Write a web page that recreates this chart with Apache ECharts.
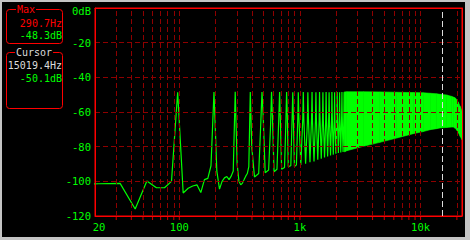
<!DOCTYPE html>
<html><head><meta charset="utf-8">
<script src="https://cdn.jsdelivr.net/npm/echarts@6/dist/echarts.min.js"></script>
<style>html,body{margin:0;padding:0;background:#000;}#c{width:470px;height:240px;}</style>
</head><body><div id="c"></div>
<script>
// ---------- data ----------
const xLabelText = {20: '20', 100: '100', 1000: '1k', 10000: '10k'};
const yTicks = [0, -20, -40, -60, -80, -100, -120];
const gridHz = [30,40,50,60,70,80,90,100,200,300,400,500,600,700,800,900,1000,2000,3000,4000,5000,6000,7000,8000,9000,10000,20000];
const gridDb = [-20, -40, -60, -80, -100];

// FFT bins (44100 Hz / 4096) below the 4th harmonic: [Hz, dB]
const lowBins = [[10.77,-101.6],[21.53,-101.4],[32.30,-101.2],[43.07,-116.0],[53.83,-99.8],[64.60,-103.7],[75.37,-103.7],[86.13,-100.0],
  [96.90,-48.6],[107.67,-106.7],[118.43,-104.0],[129.20,-102.7],[139.97,-102.0],[150.73,-106.5],[161.50,-99.0],[172.27,-98.3],[183.03,-91.0],
  [193.80,-48.5],[204.57,-94.0],[215.33,-104.5],[226.10,-100.0],[236.87,-98.0],[247.63,-97.2],[258.40,-99.0],[269.17,-97.0],[279.93,-94.0],
  [290.70,-48.3],[301.47,-90.0],[312.23,-100.0],[323.00,-102.0],[333.77,-101.0],[344.53,-99.0],[355.30,-97.0],[366.07,-95.5]];

// harmonics 4..24
const harmHz = [387.6,484.5,581.4,678.3,775.2,872.1,969.0,1065.9,1162.8,1259.7,1356.6,1453.5,1550.4,1647.3,1744.2,1841.1,1938.0,2034.9,2131.8,2228.7,2325.6];
const harmPeakDb = [-48.4,-48.5,-48.4,-48.5,-48.5,-48.6,-48.6,-48.5,-48.6,-48.5,-48.6,-48.5,-48.6,-48.5,-48.6,-48.5,-48.6,-48.5,-48.6,-48.5,-48.6];
const preHz = [376.83,473.73,570.63,667.53,764.43,861.33,958.23,1055.13,1152.03,1248.93,1345.83,1442.73,1539.63,1636.53,1733.43,1830.33,1927.23,2024.13,2121.03,2217.93,2314.83];
const preDb = [-91.5,-66,-68,-64,-66,-63,-65,-64,-66,-63,-64,-65,-63,-64,-62,-64,-63,-62,-63,-62,-63];
const postHz = [398.37,495.27,592.17,689.07,785.97,882.87,979.77,1076.67,1173.57,1270.47,1367.37,1464.27,1561.17,1658.07,1754.97,1851.87,1948.77,2045.67,2142.57,2239.47,2336.37];
const postDb = [-80,-62,-64,-66,-62,-65,-63,-64,-62,-65,-63,-62,-64,-62,-63,-62,-64,-62,-63,-62,-62];
const troughHz = [420,455,515,550,610,645,705,745,800,840,900,935,1017,1114,1211,1308,1405,1502,1599,1696,1793,1890,1986,2083,2180,2277,2374];
const troughDb = [-97.5,-95.5,-95,-93.5,-94.5,-93,-93,-92,-91.5,-91,-91.5,-90.5,-90.5,-89.8,-89,-88.5,-87.6,-86.9,-86.2,-85.6,-85.1,-84.6,-84.1,-83.7,-83.3,-83,-82.8];

// dense harmonic region: upper / lower envelope
const bandHz = [2330,2450,3360,4600,6350,8700,10500,12000,13600,14500,16500,18100,18700,19300,20000,20600,21300,22050];
const bandTopDb = [-48.4,-48.3,-48.3,-48.4,-48.6,-48.8,-48.9,-49.2,-49.5,-49.8,-50.2,-51.0,-51.4,-51.8,-52.9,-54.5,-56.8,-59.5];
const bandBottomDb = [-83,-82.3,-79.8,-77.5,-75,-72.5,-71.3,-70.2,-69.6,-69.2,-68.9,-68.7,-68.7,-69.3,-70.5,-72,-74,-76];

const cursorHz = 15019.4;
const maxText = ['Max', '290.7Hz', '-48.3dB'];
const cursorText = ['Cursor', '15019.4Hz', '-50.1dB'];

// ---------- build ----------
const spectrum = lowBins.slice();
harmHz.forEach((h, i) => { spectrum.push([preHz[i], preDb[i]], [h, harmPeakDb[i]], [postHz[i], postDb[i]]); });
troughHz.forEach((h, i) => spectrum.push([h, troughDb[i]]));
spectrum.sort((a, b) => a[0] - b[0]);

const GREEN = '#00ff00', RED = '#ff0000', DARKRED = '#8e0000', GRAY = '#c4c4c4', LIGHT = '#dcdcdc';
const FONT = 'DejaVu Sans Mono';
const PF = '10px "DejaVu Sans Mono"';

const chart = echarts.init(document.getElementById('c'), null, {renderer: 'svg'});
const redAxis = {show: true, lineStyle: {color: RED, width: 1}};
chart.setOption({
  animation: false,
  backgroundColor: '#000',
  grid: {left: 95, right: 8, top: 8, bottom: 24, show: true, backgroundColor: '#000', borderColor: RED, borderWidth: 1},
  xAxis: [{
    type: 'log', logBase: 10, min: 20, max: 22050, position: 'bottom', z: 10,
    axisLine: redAxis, axisTick: {show: false}, splitLine: {show: false}, minorTick: {show: false},
    axisLabel: {
      interval: 0, margin: 5, color: GREEN, fontFamily: FONT, fontSize: 10.5,
      formatter: v => { const r = Math.round(v); if (r === 20) return '{f|20}'; return xLabelText[r] || ''; },
      rich: {f: {padding: [0, 0, 0, 8], color: GREEN, fontFamily: FONT, fontSize: 10.5}}
    }
  }, {
    type: 'value', min: 0, max: 1, position: 'top', z: 10,
    axisLine: redAxis, axisTick: {show: false}, axisLabel: {show: false}, splitLine: {show: false}
  }],
  yAxis: [{
    type: 'value', min: -120, max: 0, interval: 20, z: 10,
    axisLine: redAxis, axisTick: {show: false}, splitLine: {show: false},
    axisLabel: {
      margin: 4, color: GREEN, fontFamily: FONT, fontSize: 10.5,
      formatter: v => v === 0 ? '{t|0dB}' : String(v),
      rich: {t: {padding: [6, 0, 0, 0], color: GREEN, fontFamily: FONT, fontSize: 10.5}}
    }
  }, {
    type: 'value', min: 0, max: 1, position: 'right', z: 10,
    axisLine: redAxis, axisTick: {show: false}, axisLabel: {show: false}, splitLine: {show: false}
  }],
  series: [{
    type: 'scatter', z: 1, silent: true,
    data: gridHz.map(f => [f, -120]),
    symbol: 'rect', symbolSize: [1, 3], symbolOffset: [0, 2.5], clip: false,
    itemStyle: {color: RED},
    markLine: {
      silent: true, symbol: 'none', label: {show: false},
      lineStyle: {color: DARKRED, type: [5, 3], width: 1},
      data: gridHz.map(f => ({xAxis: f})).concat(gridDb.map(d => ({yAxis: d})))
    }
  }, {
    type: 'line', z: 3, silent: true, data: spectrum, showSymbol: false, symbol: 'none',
    sampling: null, clip: true, lineStyle: {color: GREEN, width: 1.2}
  }, {
    type: 'custom', z: 3, silent: true, clip: true,
    data: bandHz.map((h, i) => [h, bandTopDb[i], bandBottomDb[i]]),
    encode: {x: 0, y: [1, 2]},
    renderItem: (params, api) => {
      const i = params.dataIndex;
      if (i >= bandHz.length - 1) return null;
      const a = api.coord([bandHz[i], bandTopDb[i]]);
      const b = api.coord([bandHz[i + 1], bandTopDb[i + 1]]);
      const c = api.coord([bandHz[i + 1], bandBottomDb[i + 1]]);
      const d = api.coord([bandHz[i], bandBottomDb[i]]);
      return {type: 'polygon', shape: {points: [a, b, c, d]}, style: {fill: GREEN, stroke: GREEN, lineWidth: 0.6}};
    }
  }, {
    type: 'line', z: 5, silent: true, data: [[cursorHz, -120]], symbol: 'none',
    markLine: {
      silent: true, symbol: 'none', label: {show: false},
      lineStyle: {color: LIGHT, type: [6, 3], width: 1},
      data: [{xAxis: cursorHz}]
    }
  }],
  graphic: [
    {type: 'rect', shape: {x: 0, y: 0, width: 470, height: 2}, style: {fill: GRAY}},
    {type: 'rect', shape: {x: 0, y: 0, width: 2, height: 240}, style: {fill: GRAY}},
    {type: 'rect', shape: {x: 465, y: 0, width: 5, height: 240}, style: {fill: GRAY}},
    {type: 'rect', shape: {x: 0, y: 237, width: 470, height: 3}, style: {fill: GRAY}},
    {type: 'rect', shape: {x: 6.5, y: 9.5, width: 56, height: 34, r: 3}, style: {fill: 'none', stroke: RED, lineWidth: 1}},
    {type: 'text', x: 26, y: 9.5, style: {text: maxText[0], fill: RED, font: PF, align: 'center', verticalAlign: 'middle', backgroundColor: '#000', padding: [0, 1]}},
    {type: 'text', x: 62, y: 23, style: {text: maxText[1], fill: RED, font: PF, align: 'right', verticalAlign: 'middle'}},
    {type: 'text', x: 62, y: 35, style: {text: maxText[2], fill: GREEN, font: PF, align: 'right', verticalAlign: 'middle'}},
    {type: 'rect', shape: {x: 6.5, y: 52.5, width: 56, height: 56, r: 3}, style: {fill: 'none', stroke: RED, lineWidth: 1}},
    {type: 'text', x: 34, y: 52.5, style: {text: cursorText[0], fill: LIGHT, font: PF, align: 'center', verticalAlign: 'middle', backgroundColor: '#000', padding: [0, 1]}},
    {type: 'text', x: 62, y: 65, style: {text: cursorText[1], fill: LIGHT, font: PF, align: 'right', verticalAlign: 'middle'}},
    {type: 'text', x: 62, y: 78.5, style: {text: cursorText[2], fill: GREEN, font: PF, align: 'right', verticalAlign: 'middle'}}
  ]
});
</script></body></html>
